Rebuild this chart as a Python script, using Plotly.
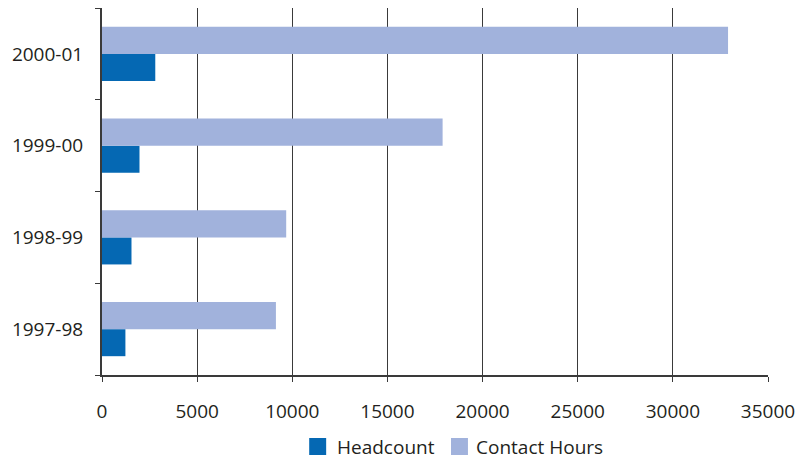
import plotly.graph_objects as go

# Enrolment figures by academic year
years = ["1997-98", "1998-99", "1999-00", "2000-01"]
headcount = [1230, 1550, 1970, 2800]
contact_hours = [9140, 9680, 17900, 32900]
x_ticks = [0, 5000, 10000, 15000, 20000, 25000, 30000, 35000]
series_names = ["Headcount", "Contact Hours"]

HEAD_COLOR = "#0568b3"
CONTACT_COLOR = "#a1b2dc"
TEXT_COLOR = "#231f20"
LINE_COLOR = "#3a3a3a"
FONT = "Open Sans, Lato, sans-serif"
FONT_SIZE = 19

W, H = 804, 460
L, R, T, B = 101.5, 35.5, 8, 85
PW, PH = W - L - R, H - T - B


def px_x(px):
    return (px - L) / PW


def px_y(py):
    return (H - B - py) / PH


fig = go.Figure()

fig.add_trace(go.Bar(
    y=years, x=headcount, orientation="h", name=series_names[0],
    marker=dict(color=HEAD_COLOR, line=dict(width=0)), showlegend=False,
))
fig.add_trace(go.Bar(
    y=years, x=contact_hours, orientation="h", name=series_names[1],
    marker=dict(color=CONTACT_COLOR, line=dict(width=0)), showlegend=False,
))

# Legend drawn as swatches + labels beneath the axis
legend_items = [
    (series_names[0], HEAD_COLOR, 309, 335),
    (series_names[1], CONTACT_COLOR, 451, 474),
]
legend_cy = 446.5
for name, color, sx, tx in legend_items:
    fig.add_shape(
        type="rect", xref="paper", yref="paper",
        x0=px_x(sx), x1=px_x(sx + 17),
        y0=px_y(legend_cy + 8.5), y1=px_y(legend_cy - 8.5),
        fillcolor=color, line=dict(width=0),
    )
    fig.add_annotation(
        xref="paper", yref="paper", x=px_x(tx), y=px_y(legend_cy),
        xanchor="left", yanchor="middle", text=name, showarrow=False,
        font=dict(family=FONT, size=FONT_SIZE, color=TEXT_COLOR),
    )

fig.update_layout(
    width=W, height=H,
    margin=dict(l=L, r=R, t=T, b=B),
    paper_bgcolor="white", plot_bgcolor="white",
    font=dict(family=FONT, size=FONT_SIZE, color=TEXT_COLOR),
    barmode="group", bargap=0.41, bargroupgap=0,
    showlegend=False,
)

fig.update_xaxes(
    range=[0, 35000], tickvals=x_ticks, ticktext=[str(v) for v in x_ticks],
    showgrid=True, gridcolor=LINE_COLOR, gridwidth=1,
    showline=True, linecolor=LINE_COLOR, linewidth=2,
    ticks="outside", ticklen=5, tickcolor=LINE_COLOR, tickwidth=1,
    ticklabelstandoff=13, zeroline=False, fixedrange=True,
)
fig.update_yaxes(
    type="category", categoryorder="array", categoryarray=years,
    range=[-0.5, 3.5], showgrid=False,
    showline=True, linecolor=LINE_COLOR, linewidth=2,
    ticks="outside", tickson="boundaries", ticklen=5, tickcolor=LINE_COLOR,
    ticklabelstandoff=13, zeroline=False, fixedrange=True,
)

fig.write_html("out.html")
